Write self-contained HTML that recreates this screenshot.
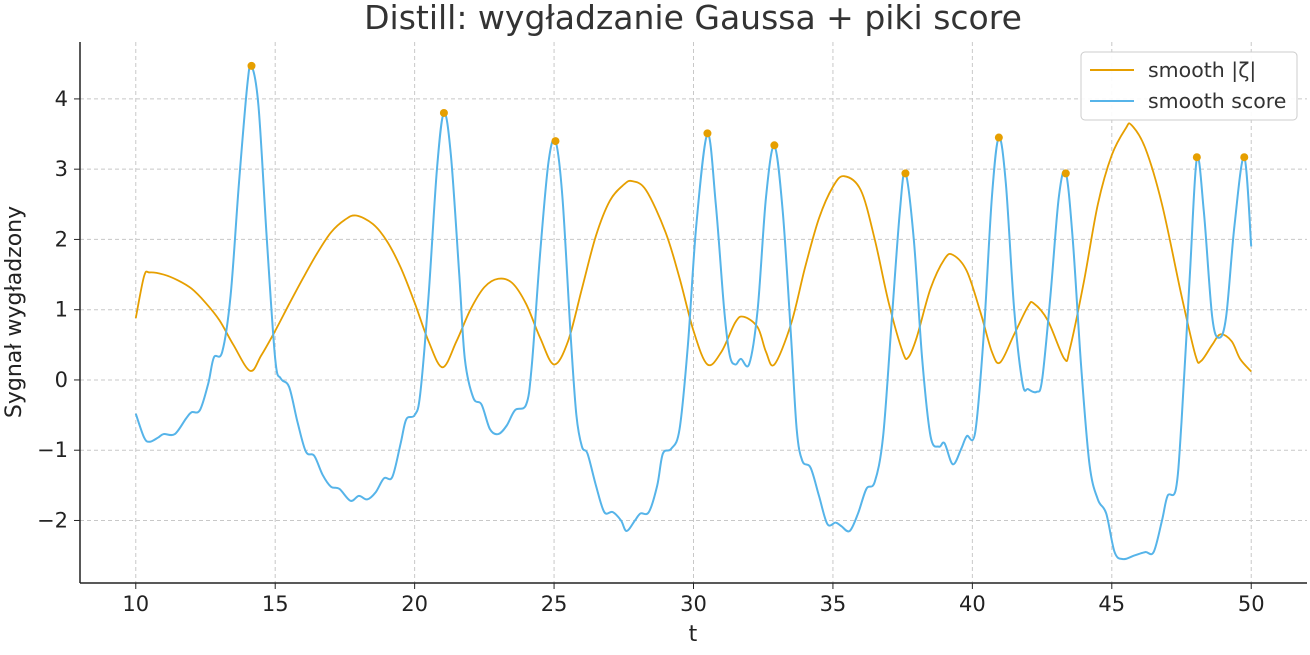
<!DOCTYPE html>
<html><head><meta charset="utf-8"><style>
html,body{margin:0;padding:0;background:#fff;}
svg text{font-family:"DejaVu Sans","Liberation Sans",sans-serif;}
</style></head><body>
<svg id="chart" width="1310" height="650" viewBox="0 0 1310 650" xmlns="http://www.w3.org/2000/svg">
<text x="693" y="29" text-anchor="middle" font-size="33" fill="#333">Distill: wygładzanie Gaussa + piki score</text>
<g id="grid"></g>
<g id="series"></g>
<g id="axes"></g>
<text x="693" y="641" text-anchor="middle" font-size="22" fill="#222">t</text>
<text transform="translate(21,312) rotate(-90)" text-anchor="middle" font-size="22" fill="#222">Sygnał wygładzony</text>
<g>
<rect x="1081" y="52" width="216" height="68" rx="4" fill="#fff" fill-opacity="0.9" stroke="#ccc"/>
<line x1="1090" y1="70" x2="1134" y2="70" stroke="#E69F00" stroke-width="2"/>
<text x="1148" y="77" font-size="20.5" fill="#333">smooth |ζ|</text>
<line x1="1090" y1="101" x2="1134" y2="101" stroke="#56B4E9" stroke-width="2"/>
<text x="1148" y="108" font-size="20.5" fill="#333">smooth score</text>
</g>
</svg>
<script>
const zetaT=[10,10.3,10.5,11,11.5,12,12.5,13,13.5,14.1,14.5,15,15.5,16,16.5,17,17.5,17.9,18.5,19,19.5,20,20.5,21,21.5,22,22.5,23,23.5,24,24.5,25,25.5,26,26.5,27,27.5,27.8,28.3,29,29.5,30,30.5,31,31.5,31.8,32.3,32.6,32.9,33.5,34,34.5,35,35.4,36,36.5,37,37.5,37.7,38,38.5,39,39.3,39.8,40.3,40.7,41,41.5,42,42.2,42.7,43.3,43.5,44,44.5,45,45.5,45.7,46.2,46.8,47.5,48,48.2,48.6,48.9,49.3,49.6,50];
const zetaV=[0.88,1.48,1.53,1.5,1.42,1.3,1.1,0.85,0.5,0.13,0.35,0.7,1.08,1.45,1.8,2.1,2.28,2.34,2.22,1.98,1.6,1.1,0.55,0.18,0.55,1.0,1.32,1.44,1.38,1.08,0.6,0.22,0.55,1.3,2.05,2.55,2.78,2.83,2.7,2.1,1.45,0.7,0.22,0.4,0.82,0.9,0.75,0.4,0.22,0.8,1.6,2.3,2.75,2.9,2.7,2.0,1.1,0.4,0.32,0.6,1.3,1.72,1.78,1.55,0.95,0.4,0.25,0.65,1.05,1.09,0.85,0.3,0.45,1.4,2.5,3.2,3.58,3.63,3.3,2.5,1.2,0.35,0.27,0.5,0.65,0.55,0.3,0.12];
const scoreT=[10,10.3,10.5,10.8,11,11.4,11.8,12,12.3,12.6,12.8,13.1,13.4,13.7,14,14.15,14.4,14.7,15,15.2,15.5,15.8,16.1,16.4,16.7,17,17.3,17.7,18,18.3,18.6,18.9,19.2,19.5,19.7,20,20.2,20.5,20.8,21.05,21.3,21.6,21.8,22.1,22.4,22.7,23,23.3,23.6,24,24.2,24.5,24.8,25.05,25.3,25.6,25.8,26,26.2,26.5,26.8,27.1,27.4,27.6,27.9,28.1,28.4,28.7,28.9,29.2,29.5,29.8,30.1,30.5,30.8,31.1,31.3,31.5,31.7,32,32.3,32.6,32.9,33.2,33.5,33.7,33.9,34.2,34.5,34.8,35.1,35.3,35.6,35.9,36.2,36.5,36.8,37.1,37.4,37.6,37.9,38.2,38.5,38.8,39,39.3,39.6,39.8,40.1,40.4,40.7,40.95,41.2,41.5,41.8,42,42.3,42.5,42.8,43.1,43.35,43.6,43.9,44.2,44.5,44.8,45.1,45.4,45.8,46.2,46.5,46.8,47,47.3,47.5,47.8,48.05,48.3,48.6,48.85,49.1,49.4,49.75,50];
const scoreV=[-0.48,-0.82,-0.88,-0.82,-0.77,-0.77,-0.55,-0.46,-0.43,-0.05,0.32,0.4,1.2,2.8,4.2,4.47,3.9,2.0,0.3,0.02,-0.1,-0.6,-1.02,-1.08,-1.35,-1.52,-1.55,-1.72,-1.65,-1.7,-1.6,-1.4,-1.38,-0.9,-0.56,-0.5,-0.2,1.2,3.0,3.8,3.2,1.5,0.3,-0.25,-0.35,-0.7,-0.77,-0.65,-0.43,-0.35,0.2,1.8,3.1,3.4,2.6,0.6,-0.5,-0.95,-1.05,-1.5,-1.88,-1.88,-2.0,-2.15,-2.0,-1.9,-1.88,-1.5,-1.05,-0.98,-0.7,0.5,2.2,3.5,2.5,1.0,0.35,0.22,0.3,0.23,1.0,2.6,3.33,2.4,0.6,-0.7,-1.15,-1.25,-1.65,-2.05,-2.03,-2.08,-2.15,-1.9,-1.55,-1.45,-0.8,0.8,2.4,2.95,2.0,0.3,-0.8,-0.95,-0.9,-1.2,-0.98,-0.8,-0.75,0.6,2.6,3.45,2.8,1.0,-0.05,-0.13,-0.17,0.0,1.2,2.6,2.95,2.0,0.2,-1.2,-1.7,-1.9,-2.45,-2.55,-2.5,-2.45,-2.45,-2.0,-1.65,-1.55,-0.6,1.5,3.15,2.4,0.9,0.6,0.9,2.2,3.17,1.9];
const peakT=[14.15,21.05,25.05,30.5,32.9,37.6,40.95,43.35,48.05,49.75];
const peakV=[4.47,3.8,3.4,3.51,3.34,2.94,3.45,2.94,3.17,3.17];
const xTicks=[10,15,20,25,30,35,40,45,50];
const yTicks=[-2,-1,0,1,2,3,4];

const NS="http://www.w3.org/2000/svg";
const X0=80,X1=1307,Y0=42,Y1=583,XMIN=8,XMAX=52,YMIN=-2.89,YMAX=4.81;
function sx(t){return X0+(t-XMIN)/(XMAX-XMIN)*(X1-X0);}
function sy(v){return Y1-(v-YMIN)/(YMAX-YMIN)*(Y1-Y0);}
function mk(tag,attrs,parent){const e=document.createElementNS(NS,tag);for(const k in attrs)e.setAttribute(k,attrs[k]);parent.appendChild(e);return e;}
const grid=document.getElementById('grid'),axes=document.getElementById('axes'),ser=document.getElementById('series');
xTicks.forEach(t=>{
 const g=mk('line',{x1:sx(t),x2:sx(t),y1:Y0,y2:Y1,stroke:'#c8c8c8','stroke-dasharray':'4,3','stroke-width':1},grid);
 
 
 const tk=mk('line',{x1:sx(t),x2:sx(t),y1:Y1,y2:Y1+6,stroke:'#222','stroke-width':1},axes);
 
 
 const lb=mk('text',{x:sx(t),y:Y1+28,'text-anchor':'middle','font-size':21,fill:'#222'},axes);
 lb.textContent=t;
 
 
});
yTicks.forEach(v=>{
 const g=mk('line',{x1:X0,x2:X1,y1:sy(v),y2:sy(v),stroke:'#c8c8c8','stroke-dasharray':'4,3','stroke-width':1},grid);
 
 
 const tk=mk('line',{x1:X0-6,x2:X0,y1:sy(v),y2:sy(v),stroke:'#222','stroke-width':1},axes);
 
 
 const lb=mk('text',{x:X0-12,y:sy(v)+7,'text-anchor':'end','font-size':21,fill:'#222'},axes);
 lb.textContent=v<0?'\u2212'+Math.abs(v):String(v);
 
 
});
const la=mk('line',{x1:X0,x2:X0,y1:Y0,y2:Y1,stroke:'#222','stroke-width':1.5},axes);


const ba=mk('line',{x1:X0,x2:X1,y1:Y1,y2:Y1,stroke:'#222','stroke-width':1.5},axes);


function path(T,V){
 const p=T.map((t,i)=>[sx(t),sy(V[i])]);
 let d='M'+p[0][0]+','+p[0][1];
 for(let i=0;i<p.length-1;i++){
  const a=p[Math.max(0,i-1)],b=p[i],c=p[i+1],e=p[Math.min(p.length-1,i+2)];
  const c1=[b[0]+(c[0]-a[0])/6,b[1]+(c[1]-a[1])/6],c2=[c[0]-(e[0]-b[0])/6,c[1]-(e[1]-b[1])/6];
  d+=' C'+c1+' '+c2+' '+c;
 }
 return d;
}
const pz=mk('path',{d:path(zetaT,zetaV),fill:'none',stroke:'#E69F00','stroke-width':1.8},ser);


const ps=mk('path',{d:path(scoreT,scoreV),fill:'none',stroke:'#56B4E9','stroke-width':2},ser);


peakT.forEach((t,i)=>{
 const c=mk('circle',{cx:sx(t),cy:sy(peakV[i]),r:4,fill:'#E69F00'},ser);
 
 
});
</script>
</body></html>
